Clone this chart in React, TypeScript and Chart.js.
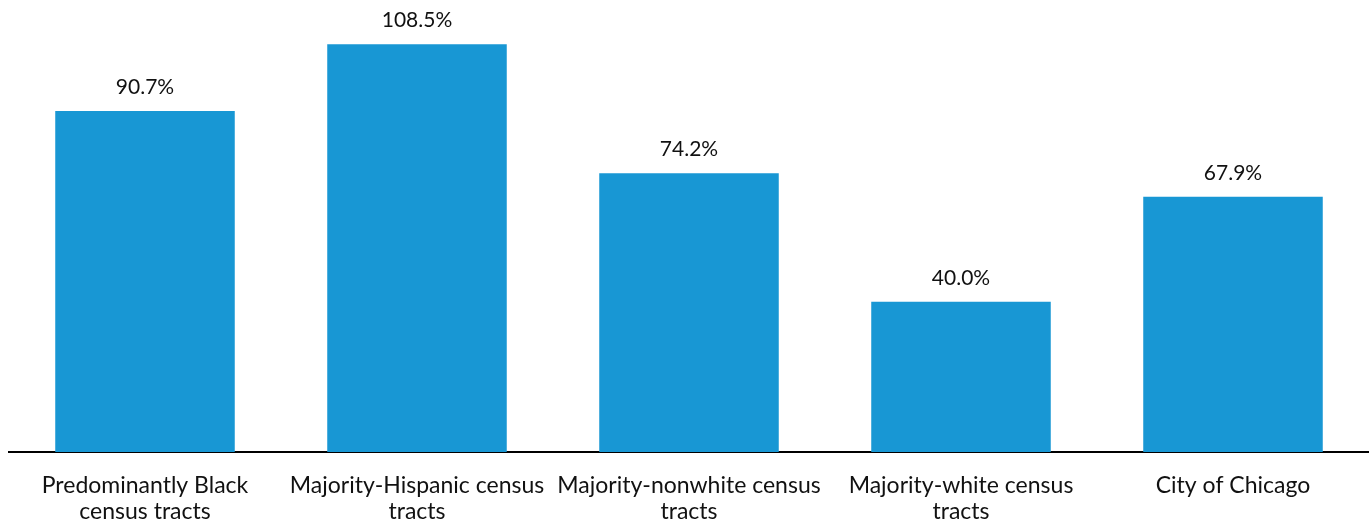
import { useEffect, useRef } from 'react'
import { Chart, registerables } from 'chart.js'

Chart.register(...registerables)

const categories: string[][] = [
  ['Predominantly Black', 'census tracts'],
  ['Majority-Hispanic census', 'tracts'],
  ['Majority-nonwhite census', 'tracts'],
  ['Majority-white census', 'tracts'],
  ['City of Chicago'],
]
const values = [90.7, 108.5, 74.2, 40.0, 67.9]

const valueLabels = {
  id: 'valueLabels',
  afterDatasetsDraw(chart: Chart) {
    const ctx = chart.ctx
    const meta = chart.getDatasetMeta(0)
    ctx.save()
    ctx.font = '21px Lato'
    ctx.fillStyle = '#111'
    ctx.textAlign = 'center'
    ctx.textBaseline = 'alphabetic'
    meta.data.forEach((bar, i) => {
      ctx.fillText(`${values[i].toFixed(1)}%`, bar.x, bar.y - 17)
    })
    ctx.restore()
  },
}

export default function App() {
  const ref = useRef<HTMLCanvasElement>(null)

  useEffect(() => {
    if (!ref.current) return
    const chart = new Chart(ref.current, {
      type: 'bar',
      data: {
        labels: categories,
        datasets: [
          {
            data: values,
            backgroundColor: '#1897d4',
            barPercentage: 0.66,
            categoryPercentage: 1,
          },
        ],
      },
      options: {
        animation: false,
        responsive: true,
        maintainAspectRatio: false,
        layout: { padding: { top: 1, left: 9, right: 0, bottom: 0 } },
        plugins: { legend: { display: false }, tooltip: { enabled: false } },
        scales: {
          x: {
            grid: { display: false, drawTicks: false },
            border: { display: true, color: '#000', width: 2 },
            ticks: {
              color: '#111',
              font: { family: 'Lato', size: 23, lineHeight: 1.15 },
              padding: 20,
              maxRotation: 0,
              autoSkip: false,
            },
            afterFit: (s) => {
              s.height = 71
            },
          },
          y: {
            display: false,
            min: 0,
            max: 120,
          },
        },
      },
      plugins: [valueLabels],
    })
    return () => chart.destroy()
  }, [])

  return (
    <div style={{ position: 'fixed', left: 0, top: 0, width: 1369, height: 523 }}>
      <canvas ref={ref} />
    </div>
  )
}
